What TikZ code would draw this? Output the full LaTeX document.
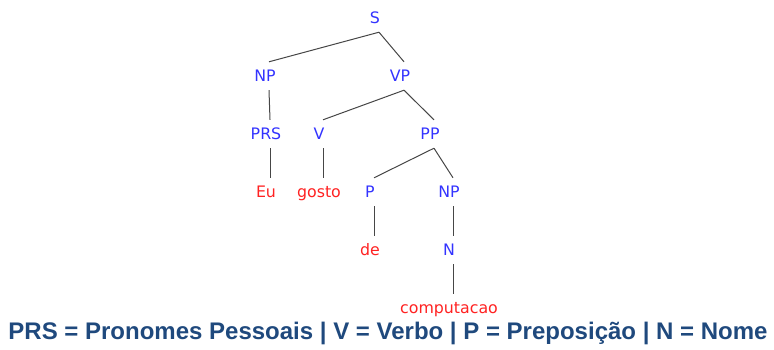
\documentclass[tikz,border=0pt]{standalone}
\usepackage{fontspec}
\setmainfont{DejaVu Sans}
\newfontfamily\legendfont{Liberation Sans}
\definecolor{catblue}{RGB}{51,51,255}
\definecolor{wordred}{RGB}{255,34,34}
\definecolor{legendblue}{RGB}{31,73,125}
\definecolor{edgegray}{RGB}{70,70,70}
\begin{document}
\begin{tikzpicture}[x=1pt,y=-1pt,
  lab/.style={inner sep=0pt, minimum height=28pt, text height=11.5pt, text depth=0pt,
              font=\fontsize{15.8}{16}\selectfont, xshift=-4pt},
  cat/.style={lab, text=catblue},
  word/.style={lab, text=wordred},
  edge/.style={draw=edgegray, line width=1pt}]
\useasboundingbox (0,0) rectangle (774,349);
% categories
\node[cat] (S)   at (379,18)  {S};
\node[cat] (NPa) at (269,76)  {NP};
\node[cat] (VP)  at (404,76)  {VP};
\node[cat] (PRS) at (270,134) {PRS};
\node[cat] (V)   at (323,134) {V};
\node[cat] (PP)  at (434,134) {PP};
\node[word] (Eu)    at (270,192) {Eu};
\node[word] (gosto) at (323,192) {gosto};
\node[cat] (P)   at (374,192) {P};
\node[cat] (NPb) at (453,192) {NP};
\node[word] (de)  at (374,250) {de};
\node[cat] (N)    at (453,250) {N};
\node[word] (comp) at (453,308) {computacao};
% edges
\draw[edge] ([xshift=4pt]S.south) -- ([xshift=4pt]NPa.north);
\draw[edge] ([xshift=4pt]S.south) -- ([xshift=4pt]VP.north);
\draw[edge] ([xshift=4pt]NPa.south) -- ([xshift=4pt]PRS.north);
\draw[edge] ([xshift=4pt]VP.south) -- ([xshift=4pt]V.north);
\draw[edge] ([xshift=4pt]VP.south) -- ([xshift=4pt]PP.north);
\draw[edge] ([xshift=4pt]PRS.south) -- ([xshift=4pt]Eu.north);
\draw[edge] ([xshift=4pt]V.south) -- ([xshift=4pt]gosto.north);
\draw[edge] ([xshift=4pt]PP.south) -- ([xshift=4pt]P.north);
\draw[edge] ([xshift=4pt]PP.south) -- ([xshift=4pt]NPb.north);
\draw[edge] ([xshift=4pt]P.south) -- ([xshift=4pt]de.north);
\draw[edge] ([xshift=4pt]NPb.south) -- ([xshift=4pt]N.north);
\draw[edge] ([xshift=4pt]N.south) -- ([xshift=4pt]comp.north);
% legend
\node[font=\legendfont\bfseries\fontsize{24}{24}\selectfont, text=legendblue,
      anchor=base, inner sep=0pt] (legend) at (388,339)
  {PRS = Pronomes Pessoais | V = Verbo | P = Preposição | N = Nome};
\end{tikzpicture}
\end{document}
